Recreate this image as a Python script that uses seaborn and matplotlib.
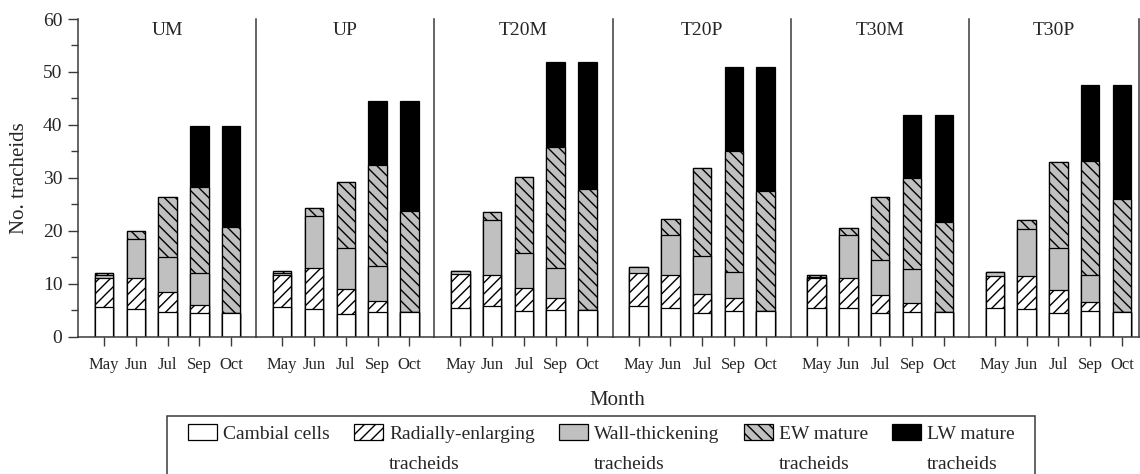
import numpy as np
import pandas as pd
import matplotlib
matplotlib.use("Agg")
import matplotlib.pyplot as plt
import seaborn as sns
from matplotlib.patches import Patch, Rectangle
from matplotlib.ticker import MultipleLocator

# ---------------- data ----------------
panels = ["UM", "UP", "T20M", "T20P", "T30M", "T30P"]
months = ["May", "Jun", "Jul", "Sep", "Oct"]
stages = ["Cambial cells", "Radially-enlarging", "Wall-thickening", "EW mature", "LW mature"]
second_lines = ["", "tracheids", "tracheids", "tracheids", "tracheids"]

# segment heights, one list per panel (May, Jun, Jul, Sep, Oct)
cambial = [
    [5.7, 5.3, 4.7, 4.4, 4.5],
    [5.7, 5.2, 4.3, 4.6, 4.6],
    [5.4, 5.8, 4.8, 5.0, 5.0],
    [5.8, 5.4, 4.4, 4.8, 4.8],
    [5.4, 5.5, 4.5, 4.7, 4.6],
    [5.5, 5.3, 4.5, 4.8, 4.7],
]
radial = [
    [5.4, 5.7, 3.7, 1.6, 0.0],
    [5.9, 7.8, 4.8, 2.1, 0.0],
    [6.4, 5.8, 4.4, 2.4, 0.0],
    [6.3, 6.2, 3.7, 2.5, 0.0],
    [5.6, 5.5, 3.4, 1.7, 0.0],
    [6.0, 6.2, 4.3, 1.7, 0.0],
]
wall = [
    [0.5, 7.5, 6.6, 6.0, 0.0],
    [0.4, 9.8, 7.6, 6.7, 0.0],
    [0.7, 10.4, 6.7, 5.6, 0.0],
    [1.1, 7.6, 7.1, 5.0, 0.0],
    [0.2, 8.3, 6.6, 6.3, 0.0],
    [0.8, 8.9, 8.0, 5.2, 0.0],
]
ew_mature = [
    [0.4, 1.4, 11.4, 16.2, 16.2],
    [0.4, 1.5, 12.6, 19.1, 19.1],
    [0.0, 1.6, 14.3, 22.8, 22.9],
    [0.0, 3.0, 16.6, 22.8, 22.7],
    [0.4, 1.2, 11.9, 17.3, 17.1],
    [0.0, 1.6, 16.1, 21.5, 21.4],
]
lw_mature = [
    [0.0, 0.0, 0.0, 11.6, 19.1],
    [0.0, 0.0, 0.0, 12.0, 20.8],
    [0.0, 0.0, 0.0, 16.0, 23.9],
    [0.0, 0.0, 0.0, 15.9, 23.5],
    [0.0, 0.0, 0.0, 11.9, 20.2],
    [0.0, 0.0, 0.0, 14.3, 21.4],
]
yticks = [0, 10, 20, 30, 40, 50, 60]

faces = ["white", "white", "#c0c0c0", "#c0c0c0", "black"]
hatches = [None, "///", None, "\\\\\\", None]

series = [cambial, radial, wall, ew_mature, lw_mature]
rows = []
for p_i, p in enumerate(panels):
    for m_i, m in enumerate(months):
        for s_i, s in enumerate(stages):
            rows.append({"panel": p, "month": m, "stage": s, "value": series[s_i][p_i][m_i]})
df = pd.DataFrame(rows)

# ---------------- style ----------------
sns.set_style("ticks")
plt.rcParams["font.family"] = ["Liberation Serif", "DejaVu Serif"]
plt.rcParams["hatch.linewidth"] = 1.0
plt.rcParams["hatch.color"] = "black"

W, H = 1140, 474
fig = plt.figure(figsize=(W / 100, H / 100), dpi=100)

step = 31.75          # px between months
left_m, right_m = 26 / step, 25 / step
last_right = 17 / step
ratios = [4 + left_m + right_m] * 5 + [4 + left_m + last_right]
gs = fig.add_gridspec(1, 6, width_ratios=ratios, wspace=0,
                      left=78 / W, right=1139 / W, top=1 - 19 / H, bottom=1 - 336.7 / H)
axes = []
for i in range(6):
    ax = fig.add_subplot(gs[0, i], sharey=axes[0] if axes else None)
    axes.append(ax)

spine_col = "#3a3a3a"
for i, (ax, p) in enumerate(zip(axes, panels)):
    sub = df[df["panel"] == p]
    wide = sub.pivot(index="month", columns="stage", values="value").loc[months, stages]
    cum = wide.cumsum(axis=1)
    for k in reversed(range(len(stages))):
        d = pd.DataFrame({"month": months, "top": cum.iloc[:, k].values})
        sns.barplot(data=d, x="month", y="top", order=months, ax=ax,
                    color=faces[k], saturation=1, width=0.58, errorbar=None,
                    edgecolor="black", linewidth=0.9, hatch=hatches[k])
    ax.set_xlim(-left_m, 4 + (last_right if i == 5 else right_m))
    ax.set_ylim(0, 60)
    ax.set_xlabel("")
    ax.set_ylabel("")
    ax.text(0.5, 1 - 3 / 317.7, p, transform=ax.transAxes, ha="center", va="top", fontsize=14)
    for s in ["top", "right"]:
        ax.spines[s].set_visible(False)
    if i == 5:
        ax.spines["right"].set_visible(True)
    for s in ["left", "right", "bottom"]:
        ax.spines[s].set_color(spine_col)
        ax.spines[s].set_linewidth(1.1)
    ax.tick_params(axis="x", direction="out", length=6.5, width=1, color=spine_col,
                   pad=8, labelsize=12)
    if i == 0:
        ax.set_yticks(yticks)
        ax.yaxis.set_minor_locator(MultipleLocator(5))
        ax.tick_params(axis="y", which="major", direction="out", length=7.2, width=1,
                       color=spine_col, pad=4, labelsize=14)
        ax.tick_params(axis="y", which="minor", direction="out", length=5, width=1,
                       color=spine_col)
        ax.set_ylabel("No. tracheids", fontsize=15, labelpad=10)
    else:
        ax.tick_params(axis="y", which="both", left=False, labelleft=False)

fig.text(617 / W, 1 - 405 / H, "Month", ha="center", va="baseline", fontsize=15)

# ---------------- legend ----------------
handles = [Patch(facecolor=faces[k], edgecolor="black", hatch=hatches[k], linewidth=0.9)
           for k in range(len(stages))]
leg = fig.legend(handles, stages, ncol=5, loc="upper left",
                 bbox_to_anchor=(188 / W, 1 - 424 / H), frameon=False,
                 borderpad=0, borderaxespad=0, handlelength=1.5, handleheight=0.87,
                 handletextpad=0.3, columnspacing=1.25, fontsize=14)
frame = Rectangle((167 / W, -0.05), (1035 - 167) / W, (H - 416) / H + 0.05,
                  transform=fig.transFigure, fill=False, edgecolor=spine_col,
                  linewidth=1.1, clip_on=False)
fig.add_artist(frame)

fig.canvas.draw()
renderer = fig.canvas.get_renderer()
for txt, extra in zip(leg.get_texts(), second_lines):
    if extra:
        bb = txt.get_window_extent(renderer)
        fig.text(bb.x0 / W, 1 - 469 / H, extra, ha="left", va="baseline", fontsize=14)

fig.savefig("out.png", dpi=100)
